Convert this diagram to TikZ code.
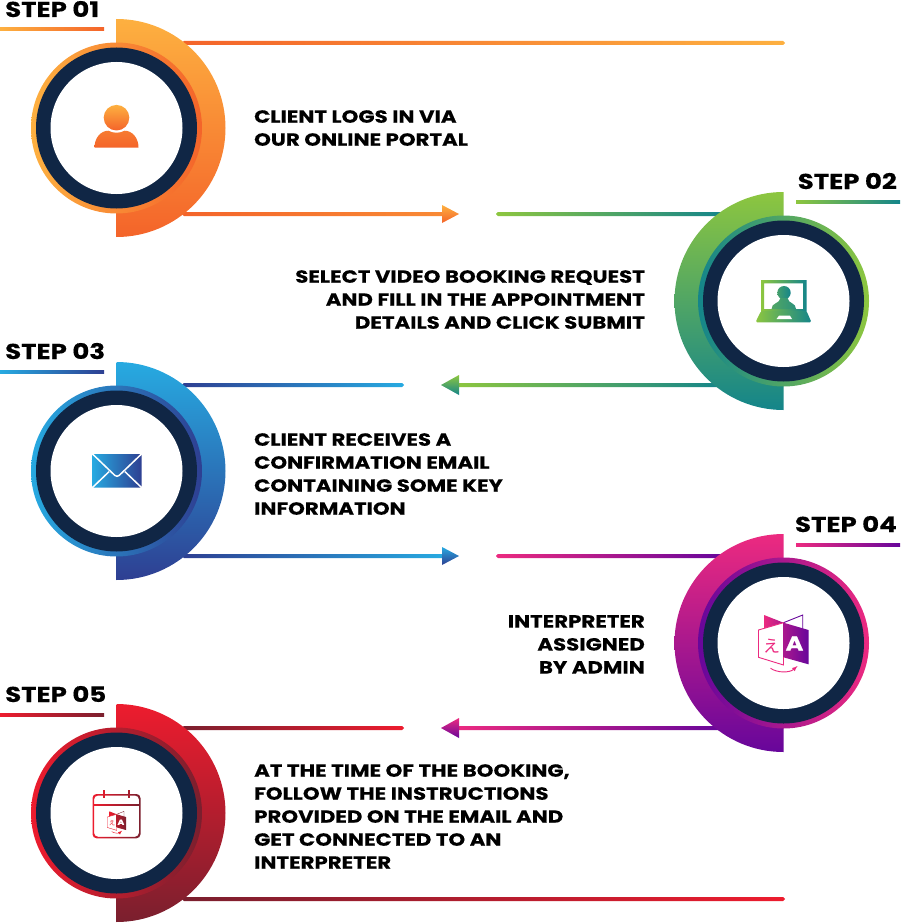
\documentclass[tikz,border=0pt]{standalone}
\usepackage{fontspec}
\setmainfont{Poppins}[FakeStretch=1.21,BoldFeatures={FakeBold=0.3}]
\newfontfamily\cjkjp{Noto Sans CJK JP}
\usetikzlibrary{calc}
\definecolor{navy}{HTML}{102645}
\definecolor{orangeA}{HTML}{FDB040}
\definecolor{orangeB}{HTML}{F4642A}
\definecolor{greenA}{HTML}{8DC63F}
\definecolor{greenB}{HTML}{14858A}
\definecolor{blueA}{HTML}{27AAE1}
\definecolor{blueB}{HTML}{2E3F92}
\definecolor{pinkA}{HTML}{EC2A80}
\definecolor{pinkB}{HTML}{67069B}
\definecolor{redA}{HTML}{ED1C2E}
\definecolor{redB}{HTML}{7A1F2E}
\tikzset{
    steptext/.style={font=\bfseries\fontsize{21.5}{24}\selectfont, inner sep=0pt},
    bodytext/.style={font=\bfseries\fontsize{17.6}{23}\selectfont, inner sep=0pt},
    lefttext/.style={bodytext, align=left, anchor=north west},
    righttext/.style={bodytext, align=right, anchor=north east},
}
\newcommand{\badge}[6]{
    \shade[top color=#2, bottom color=#3] ($(#1)+(0,-109)$) arc (-90:{-90+180*#6}:109) -- cycle;
    \shade[left color=#4, right color=#5] (#1) circle (85.5);
    \fill[navy] (#1) circle (80.5);
    \fill[white] (#1) circle (66);
}
\newcommand{\gradbar}[4]{
    \shade[left color=#3, right color=#4, rounded corners=1.9pt] ($(#1)+(0,-2)$) rectangle ($(#2)+(0,2)$);
}
\newcommand{\xlateicon}[5]{
    \begin{scope}[shift={(#1)}, scale=#2, name prefix=#1-]
        \shade[left color=#3, right color=#3!50!#4] (-19.5,-28) -- (0,-20.3) -- (-19.5,-13) -- cycle;
        \draw[#4, line width=#5] (0,-20.3) -- (19.2,-28) -- (19.2,-13);
        \fill[white] (-25,-13) -- (0,-20.3) -- (0,22) -- (-25,14.3) -- cycle;
        \draw[#3, line width=#5] (-25,-13) -- (0,-20.3) -- (0,22) -- (-25,14.3) -- cycle;
        \shade[left color=#3!50!#4, right color=#4] (0,-20.3) -- (25,-13) -- (25,21.3) -- (0,14.3) -- cycle;
        \node[text=#3, font=\cjkjp\fontsize{17}{17}\selectfont, inner sep=0pt, scale=#2] (kana) at (-12,2.7) {え};
        \node[text=white, font=\bfseries\fontsize{20}{20}\selectfont, inner sep=0pt, scale=#2] (latin) at (11,0.5) {A};
        \draw[#3, line width=#5, -latex] (-13,25.3) .. controls (-6,30) and (6,30) .. (14,23);
    \end{scope}
}
\begin{document}
\begin{tikzpicture}[x=1pt,y=-1pt]
    \useasboundingbox (0,0) rectangle (900,923);

    \coordinate (c1) at (116.5,128);
    \coordinate (c2) at (783.5,301);
    \coordinate (c3) at (116.5,471);
    \coordinate (c4) at (783.5,643);
    \coordinate (c5) at (116.5,813);

    \coordinate (t1a) at (182,43);
    \coordinate (t1b) at (785,43);
    \coordinate (a1a) at (182,214);
    \coordinate (a1b) at (444,214);
    \coordinate (a1t) at (459,214);
    \coordinate (t2a) at (496,214);
    \coordinate (t2b) at (722,214);
    \coordinate (a2a) at (722,385);
    \coordinate (a2b) at (456,385);
    \coordinate (a2t) at (441,385);
    \coordinate (t3a) at (182,385);
    \coordinate (t3b) at (404,385);
    \coordinate (a3a) at (182,556);
    \coordinate (a3b) at (444,556);
    \coordinate (a3t) at (459,556);
    \coordinate (t4a) at (496,556);
    \coordinate (t4b) at (722,556);
    \coordinate (a4a) at (722,728);
    \coordinate (a4b) at (456,728);
    \coordinate (a4t) at (441,728);
    \coordinate (t5a) at (182,728);
    \coordinate (t5b) at (404,728);
    \coordinate (t6a) at (182,899);
    \coordinate (t6b) at (785,899);

    \gradbar{t1a}{t1b}{orangeB}{orangeA}
    \gradbar{a1a}{a1b}{orangeB}{orangeA!50!orangeB}
    \gradbar{t2a}{t2b}{greenA}{greenB}
    \gradbar{a2b}{a2a}{greenA}{greenB}
    \gradbar{t3a}{t3b}{blueB}{blueA}
    \gradbar{a3a}{a3b}{blueB}{blueA}
    \gradbar{t4a}{t4b}{pinkA}{pinkB}
    \gradbar{a4b}{a4a}{pinkA}{pinkB}
    \gradbar{t5a}{t5b}{redB}{redA}
    \gradbar{t6a}{t6b}{redB}{redA}

    \shade[top color=orangeA, bottom color=orangeB] ($(a1b)+(-2,-9)$) -- (a1t) -- ($(a1b)+(-2,9)$) -- cycle;
    \shade[top color=greenA, bottom color=greenB] ($(a2b)+(3,-10)$) -- (a2t) -- ($(a2b)+(3,10)$) -- cycle;
    \shade[top color=blueA, bottom color=blueB] ($(a3b)+(-2,-9)$) -- (a3t) -- ($(a3b)+(-2,9)$) -- cycle;
    \shade[top color=pinkA, bottom color=pinkB] ($(a4b)+(3,-10)$) -- (a4t) -- ($(a4b)+(3,10)$) -- cycle;

    \badge{c1}{orangeA}{orangeB}{orangeA}{orangeB}{1}
    \badge{c2}{greenA}{greenB}{greenB}{greenA}{-1}
    \badge{c3}{blueA}{blueB}{blueA}{blueB}{1}
    \badge{c4}{pinkA}{pinkB}{pinkB}{pinkA}{-1}
    \badge{c5}{redA}{redB}{redA}{redB}{1}

    \node[steptext, anchor=base west] (s1) at (5,17) {STEP 01};
    \node[steptext, anchor=base east] (s2) at (897,189) {STEP 02};
    \node[steptext, anchor=base west] (s3) at (5,359) {STEP 03};
    \node[steptext, anchor=base east] (s4) at (897,532) {STEP 04};
    \node[steptext, anchor=base west] (s5) at (5,702) {STEP 05};

    \coordinate (u1a) at (0,29);
    \coordinate (u1b) at (104,29);
    \coordinate (u2a) at (796,202);
    \coordinate (u2b) at (900,202);
    \coordinate (u3a) at (0,372);
    \coordinate (u3b) at (104,372);
    \coordinate (u4a) at (796,545);
    \coordinate (u4b) at (900,545);
    \coordinate (u5a) at (0,715);
    \coordinate (u5b) at (104,715);
    \shade[left color=orangeA, right color=orangeB] ($(u1a)+(0,-1.2)$) rectangle ($(u1b)+(0,1.2)$);
    \shade[left color=greenA, right color=greenB] ($(u2a)+(0,-1.2)$) rectangle ($(u2b)+(0,1.2)$);
    \shade[left color=blueA, right color=blueB] ($(u3a)+(0,-1.2)$) rectangle ($(u3b)+(0,1.2)$);
    \shade[left color=pinkA, right color=pinkB] ($(u4a)+(0,-1.2)$) rectangle ($(u4b)+(0,1.2)$);
    \shade[left color=redA, right color=redB] ($(u5a)+(0,-1.2)$) rectangle ($(u5b)+(0,1.2)$);

    \node[lefttext] (b1) at (254,110) {CLIENT LOGS IN VIA\\OUR ONLINE PORTAL};
    \node[righttext] (b2) at (645,270) {SELECT VIDEO BOOKING REQUEST\\AND FILL IN THE APPOINTMENT\\DETAILS AND CLICK SUBMIT};
    \node[lefttext] (b3) at (254,433) {CLIENT RECEIVES A\\CONFIRMATION EMAIL\\CONTAINING SOME KEY\\INFORMATION};
    \node[righttext] (b4) at (645,615) {INTERPRETER\\ASSIGNED\\BY ADMIN};
    \node[lefttext] (b5) at (254,764) {AT THE TIME OF THE BOOKING,\\FOLLOW THE INSTRUCTIONS\\PROVIDED ON THE EMAIL AND\\GET CONNECTED TO AN\\INTERPRETER};

    \shade[top color=orangeA!30!orangeB, bottom color=orangeB] ($(c1)+(-22,19.7)$) .. controls ($(c1)+(-22,10)$) and ($(c1)+(-16,2.7)$) .. ($(c1)+(-8,2.7)$) -- ($(c1)+(8,2.7)$) .. controls ($(c1)+(16,2.7)$) and ($(c1)+(22,10)$) .. ($(c1)+(22,19.7)$) -- cycle;
    \fill[white] ($(c1)+(0,-10.3)$) circle (15);
    \shade[top color=orangeA, bottom color=orangeB] ($(c1)+(0,-10.3)$) circle (12.8);

    \shade[left color=greenA, right color=greenB, even odd rule] ($(c2)+(-22.5,-21)$) rectangle ($(c2)+(23,12)$) ($(c2)+(-19.5,-17.7)$) rectangle ($(c2)+(19.5,8)$);
    \shade[left color=greenA, right color=greenB, rounded corners=1.5pt] ($(c2)+(-22.5,10)$) -- ($(c2)+(23,10)$) -- ($(c2)+(28,21.3)$) -- ($(c2)+(-28,21.3)$) -- cycle;
    \fill[white] ($(c2)+(-4.5,14.7)$) -- ($(c2)+(6.5,14.7)$) -- ($(c2)+(8.5,18)$) -- ($(c2)+(-7,18)$) -- cycle;
    \shade[left color=greenA!40!greenB, right color=greenB] ($(c2)+(0.5,-8.3)$) circle (6.7);
    \shade[left color=greenA!50!greenB, right color=greenB!80!greenA] ($(c2)+(-12,8)$) .. controls ($(c2)+(-12,1.5)$) and ($(c2)+(-4,3)$) .. ($(c2)+(-3,-3)$) -- ($(c2)+(4,-3)$) .. controls ($(c2)+(5,3)$) and ($(c2)+(12.5,1.5)$) .. ($(c2)+(12.5,8)$) -- cycle;

    \shade[left color=blueA, right color=blueB, rounded corners=1pt] ($(c3)+(-24,-17)$) rectangle ($(c3)+(25,16.5)$);
    \draw[white, line width=1.5pt, rounded corners=3pt] ($(c3)+(-24,-17)$) -- ($(c3)+(0.5,6.5)$) -- ($(c3)+(25,-17)$);
    \draw[white, line width=1.5pt] ($(c3)+(-24,16.5)$) -- ($(c3)+(-7.5,0.7)$);
    \draw[white, line width=1.5pt] ($(c3)+(25,16.5)$) -- ($(c3)+(8.5,0.7)$);

    \xlateicon{c4}{1}{pinkA}{pinkB}{0.9pt}

    \shade[left color=redA, right color=redB, even odd rule, rounded corners=4pt] ($(c5)+(-24,-19)$) rectangle ($(c5)+(24,25.3)$) ($(c5)+(-22.5,-17.5)$) rectangle ($(c5)+(22.5,23.8)$);
    \shade[left color=redA, right color=redB] ($(c5)+(-23,-8.7)$) rectangle ($(c5)+(23,-7.3)$);
    \draw[redA!85!redB, line width=1.5pt] ($(c5)+(-12.5,-23)$) -- ($(c5)+(-12.5,-15)$);
    \draw[redA!40!redB, line width=1.5pt] ($(c5)+(12.5,-23)$) -- ($(c5)+(12.5,-15)$);
    \coordinate (c5i) at ($(c5)+(0.2,9)$);
    \xlateicon{c5i}{0.38}{redA}{redB}{0.4pt}
\end{tikzpicture}
\end{document}
